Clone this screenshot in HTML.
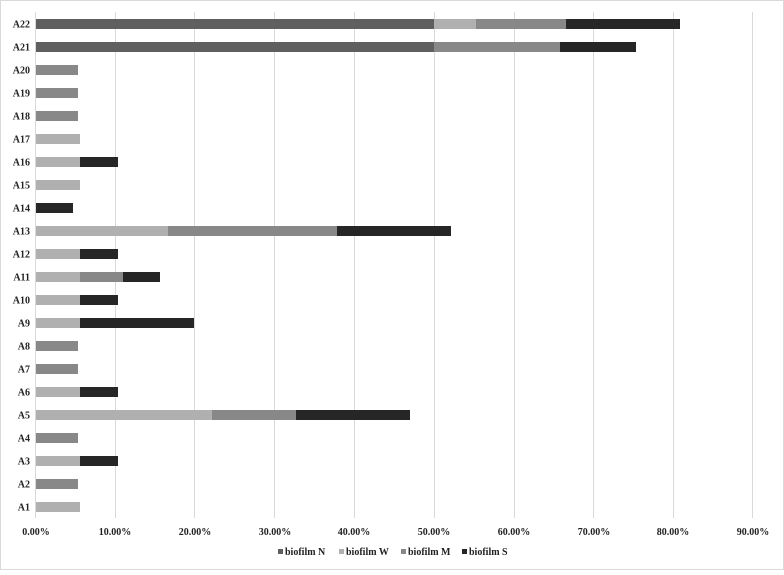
<!DOCTYPE html>
<html><head><meta charset="utf-8"><style>
html,body{margin:0;padding:0;background:#fff}
text{font-family:"Liberation Serif",serif;font-weight:bold;font-size:10px;fill:#222}
</style></head><body>
<svg width="784" height="570" xmlns="http://www.w3.org/2000/svg">
<rect x="0.5" y="0.5" width="783" height="569" fill="#fff" stroke="#d9d9d9"/>
<g stroke="#d9d9d9" stroke-width="1">
<line x1="35.5" y1="12" x2="35.5" y2="518"/><line x1="115.5" y1="12" x2="115.5" y2="518"/><line x1="194.5" y1="12" x2="194.5" y2="518"/><line x1="274.5" y1="12" x2="274.5" y2="518"/><line x1="354.5" y1="12" x2="354.5" y2="518"/><line x1="434.5" y1="12" x2="434.5" y2="518"/><line x1="514.5" y1="12" x2="514.5" y2="518"/><line x1="593.5" y1="12" x2="593.5" y2="518"/><line x1="673.5" y1="12" x2="673.5" y2="518"/><line x1="752.5" y1="12" x2="752.5" y2="518"/>
</g>
<g text-anchor="end">
<text x="30" y="27.5">A22</text><text x="30" y="50.5">A21</text><text x="30" y="73.5">A20</text><text x="30" y="96.5">A19</text><text x="30" y="119.5">A18</text><text x="30" y="142.5">A17</text><text x="30" y="165.5">A16</text><text x="30" y="188.5">A15</text><text x="30" y="211.5">A14</text><text x="30" y="234.5">A13</text><text x="30" y="257.5">A12</text><text x="30" y="280.5">A11</text><text x="30" y="303.5">A10</text><text x="30" y="326.5">A9</text><text x="30" y="349.5">A8</text><text x="30" y="372.5">A7</text><text x="30" y="395.5">A6</text><text x="30" y="418.5">A5</text><text x="30" y="441.5">A4</text><text x="30" y="464.5">A3</text><text x="30" y="487.5">A2</text><text x="30" y="510.5">A1</text>
</g>
<!-- A22 y=19 -->
<rect x="36" y="19" width="398" height="10" fill="#5f5f5f"/><rect x="434" y="19" width="42" height="10" fill="#b0b0b0"/><rect x="476" y="19" width="90" height="10" fill="#888"/><rect x="566" y="19" width="114" height="10" fill="#262626"/>
<!-- A21 -->
<rect x="36" y="42" width="398" height="10" fill="#5f5f5f"/><rect x="434" y="42" width="126" height="10" fill="#888"/><rect x="560" y="42" width="76" height="10" fill="#262626"/>
<rect x="36" y="65" width="42" height="10" fill="#888"/>
<rect x="36" y="88" width="42" height="10" fill="#888"/>
<rect x="36" y="111" width="42" height="10" fill="#888"/>
<rect x="36" y="134" width="44" height="10" fill="#b0b0b0"/>
<rect x="36" y="157" width="44" height="10" fill="#b0b0b0"/><rect x="80" y="157" width="38" height="10" fill="#262626"/>
<rect x="36" y="180" width="44" height="10" fill="#b0b0b0"/>
<rect x="36" y="203" width="37" height="10" fill="#262626"/>
<rect x="36" y="226" width="132" height="10" fill="#b0b0b0"/><rect x="168" y="226" width="169" height="10" fill="#888"/><rect x="337" y="226" width="114" height="10" fill="#262626"/>
<rect x="36" y="249" width="44" height="10" fill="#b0b0b0"/><rect x="80" y="249" width="38" height="10" fill="#262626"/>
<rect x="36" y="272" width="44" height="10" fill="#b0b0b0"/><rect x="80" y="272" width="43" height="10" fill="#888"/><rect x="123" y="272" width="37" height="10" fill="#262626"/>
<rect x="36" y="295" width="44" height="10" fill="#b0b0b0"/><rect x="80" y="295" width="38" height="10" fill="#262626"/>
<rect x="36" y="318" width="44" height="10" fill="#b0b0b0"/><rect x="80" y="318" width="114" height="10" fill="#262626"/>
<rect x="36" y="341" width="42" height="10" fill="#888"/>
<rect x="36" y="364" width="42" height="10" fill="#888"/>
<rect x="36" y="387" width="44" height="10" fill="#b0b0b0"/><rect x="80" y="387" width="38" height="10" fill="#262626"/>
<rect x="36" y="410" width="176" height="10" fill="#b0b0b0"/><rect x="212" y="410" width="84" height="10" fill="#888"/><rect x="296" y="410" width="114" height="10" fill="#262626"/>
<rect x="36" y="433" width="42" height="10" fill="#888"/>
<rect x="36" y="456" width="44" height="10" fill="#b0b0b0"/><rect x="80" y="456" width="38" height="10" fill="#262626"/>
<rect x="36" y="479" width="42" height="10" fill="#888"/>
<rect x="36" y="502" width="44" height="10" fill="#b0b0b0"/>
<g text-anchor="middle">
<text x="36" y="535">0.00%</text><text x="115" y="535">10.00%</text><text x="195" y="535">20.00%</text><text x="275" y="535">30.00%</text><text x="354" y="535">40.00%</text><text x="434" y="535">50.00%</text><text x="514" y="535">60.00%</text><text x="594" y="535">70.00%</text><text x="673" y="535">80.00%</text><text x="753" y="535">90.00%</text>
</g>
<g>
<rect x="278" y="549" width="5" height="5" fill="#5f5f5f"/><text x="285" y="555">biofilm N</text>
<rect x="339" y="549" width="5" height="5" fill="#b0b0b0"/><text x="346" y="555">biofilm W</text>
<rect x="401" y="549" width="5" height="5" fill="#888"/><text x="408" y="555">biofilm M</text>
<rect x="462" y="549" width="5" height="5" fill="#262626"/><text x="469" y="555">biofilm S</text>
</g>
</svg>
</body></html>
